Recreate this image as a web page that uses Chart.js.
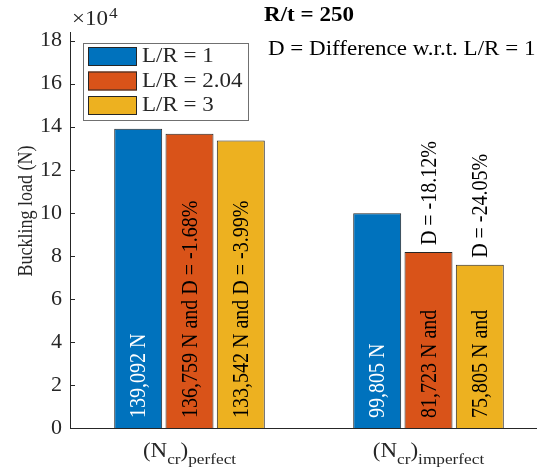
<!DOCTYPE html>
<html>
<head>
<meta charset="utf-8">
<script src="https://cdn.jsdelivr.net/npm/chart.js@4/dist/chart.umd.min.js"></script>
<style>
  html, body { margin: 0; padding: 0; background: #fff; overflow: hidden; }
  #wrap { position: absolute; left: 0; top: 0; width: 548px; height: 471px; }
</style>
</head>
<body>
<div id="wrap"><canvas id="chart" width="548" height="471"></canvas></div>
<script>
// groups on the x axis: main letter, first subscript, second subscript
const groupMain = ['N', 'N'];
const groupSub = ['cr', 'cr'];
const groupSub2 = ['perfect', 'imperfect'];

const seriesNames = ['L/R = 1', 'L/R = 2.04', 'L/R = 3'];
const loadLR1 = [139092, 99805];
const loadLR204 = [136759, 81723];
const loadLR3 = [133542, 75805];

const yTicks = [0, 2, 4, 6, 8, 10, 12, 14, 16, 18]; // x 10^4

const colors = ['#0072BD', '#D95319', '#EDB120'];
const textColors = ['#ffffff', '#000000', '#000000'];
const FONT = "'Liberation Serif', 'Times New Roman', serif";
const INK = '#262626';
const SX = 1.15; // the source figure is a bit wider than tall, text looks stretched

const fmt = v => v.toLocaleString('en-US');

// percent difference against L/R = 1
function diffLabel(v, ref) {
    return 'D = ' + ((v - ref) / ref * 100).toFixed(2) + '%';
}

// draw a horizontal text stretched by SX, anchored at x (left/center)
function wideText(ctx, text, x, y, align) {
    const w = ctx.measureText(text).width * SX;
    let left = x;
    if (align === 'center') left = x - w / 2;
    ctx.save();
    ctx.translate(left, y);
    ctx.scale(SX, 1);
    ctx.textAlign = 'left';
    ctx.fillText(text, 0, 0);
    ctx.restore();
    return w;
}

function upText(ctx, text, x, y) {
    ctx.save();
    ctx.translate(x, y);
    ctx.scale(SX, 1);
    ctx.rotate(-Math.PI / 2);
    ctx.fillText(text, 0, 1);
    ctx.restore();
}

const barText = {
    id: 'barText',
    afterDatasetsDraw(chart) {
        const ctx = chart.ctx;
        const series = chart.data.datasets;
        ctx.save();
        ctx.font = '20px ' + FONT;
        ctx.textBaseline = 'middle';
        ctx.textAlign = 'left';
        series.forEach((ds, si) => {
            const meta = chart.getDatasetMeta(si);
            meta.data.forEach((bar, gi) => {
                const v = ds.data[gi];
                const ref = series[0].data[gi];
                let inside = fmt(v) + ' N';
                let above = '';
                if (si > 0) {
                    if (gi === 0) inside += ' and ' + diffLabel(v, ref);
                    else { inside += ' and'; above = diffLabel(v, ref); }
                }
                ctx.fillStyle = textColors[si];
                upText(ctx, inside, bar.x, bar.base - 10);
                if (above) {
                    ctx.fillStyle = '#000';
                    upText(ctx, above, bar.x, bar.y - 7);
                }
            });
        });
        ctx.restore();
    }
};

const decorations = {
    id: 'decorations',
    afterDraw(chart) {
        const ctx = chart.ctx;
        const area = chart.chartArea;
        const y = chart.scales.y;
        const x = chart.scales.x;
        ctx.save();

        // inward tick marks on the y axis
        ctx.strokeStyle = INK;
        ctx.lineWidth = 1;
        y.ticks.forEach(t => {
            const py = Math.round(y.getPixelForValue(t.value)) + 0.5;
            ctx.beginPath();
            ctx.moveTo(area.left, py);
            ctx.lineTo(area.left + 5, py);
            ctx.stroke();
        });

        // y axis title
        ctx.fillStyle = INK;
        ctx.font = '18px ' + FONT;
        ctx.textBaseline = 'middle';
        ctx.textAlign = 'center';
        ctx.save();
        ctx.translate(27, 211);
        ctx.scale(SX, 1);
        ctx.rotate(-Math.PI / 2);
        ctx.fillText('Buckling load (N)', 0, 0);
        ctx.restore();

        // exponent label
        ctx.textBaseline = 'alphabetic';
        ctx.font = '20px ' + FONT;
        const w = wideText(ctx, '\u00d710', 72, 25, 'left');
        ctx.font = '15px ' + FONT;
        wideText(ctx, '4', 72 + w + 1, 18, 'left');

        // x group labels with subscripts
        groupMain.forEach((m, i) => {
            const cx = x.getPixelForValue(i);
            const parts = [
                ['(' + m, '20px ', 457],
                [groupSub[i], '15px ', 464],
                [')', '20px ', 457],
                [groupSub2[i], '15px ', 464]
            ];
            let total = 0;
            parts.forEach(p => { ctx.font = p[1] + FONT; total += ctx.measureText(p[0]).width * SX; });
            let px = cx - total / 2;
            parts.forEach(p => {
                ctx.font = p[1] + FONT;
                px += wideText(ctx, p[0], px, p[2], 'left');
            });
        });

        // title and note
        ctx.fillStyle = '#000';
        ctx.font = 'bold 20px ' + FONT;
        wideText(ctx, 'R/t = 250', (area.left + area.right) / 2, 21, 'center');
        ctx.font = '20px ' + FONT;
        wideText(ctx, 'D = Difference w.r.t. L/R = 1', 268, 55, 'left');

        // legend box
        const lx = 83, ly = 43, lw = 165, lh = 77;
        ctx.fillStyle = '#fff';
        ctx.fillRect(lx, ly, lw, lh);
        ctx.strokeStyle = '#707070';
        ctx.strokeRect(lx + 0.5, ly + 0.5, lw, lh);
        ctx.font = '20px ' + FONT;
        ctx.textBaseline = 'middle';
        chart.data.datasets.forEach((ds, i) => {
            const ry = ly + 4 + i * 24.5;
            ctx.fillStyle = ds.backgroundColor;
            ctx.fillRect(lx + 5, ry, 49, 19);
            ctx.strokeStyle = INK;
            ctx.strokeRect(lx + 5.5, ry + 0.5, 48, 18);
            ctx.fillStyle = INK;
            wideText(ctx, ds.label, lx + 59, ry + 10, 'left');
        });
        ctx.restore();
    }
};

new Chart(document.getElementById('chart'), {
    type: 'bar',
    data: {
        labels: groupSub2,
        datasets: [loadLR1, loadLR204, loadLR3].map((d, i) => ({
            label: seriesNames[i],
            data: d,
            backgroundColor: colors[i],
            borderColor: INK,
            borderWidth: 1,
            barPercentage: 0.935,
            categoryPercentage: 0.644
        }))
    },
    options: {
        responsive: false,
        animation: false,
        devicePixelRatio: 1,
        layout: { padding: { top: 32, right: 0, left: 0, bottom: 0 } },
        plugins: { legend: { display: false }, title: { display: false }, tooltip: { enabled: false } },
        scales: {
            x: {
                grid: { display: false, drawTicks: false },
                border: { display: true, color: INK, width: 1 },
                ticks: { display: false },
                afterFit(s) { s.height = 43; }
            },
            y: {
                min: 0,
                max: 184000,
                grid: { display: false, drawTicks: false },
                border: { display: true, color: INK, width: 1 },
                afterBuildTicks(s) { s.ticks = yTicks.map(v => ({ value: v * 1e4 })); },
                ticks: {
                    padding: 8,
                    color: INK,
                    font: { family: FONT, size: 22 },
                    callback: v => String(v / 1e4)
                },
                afterFit(s) { s.width = 70; }
            }
        }
    },
    plugins: [barText, decorations]
});
</script>
</body>
</html>
